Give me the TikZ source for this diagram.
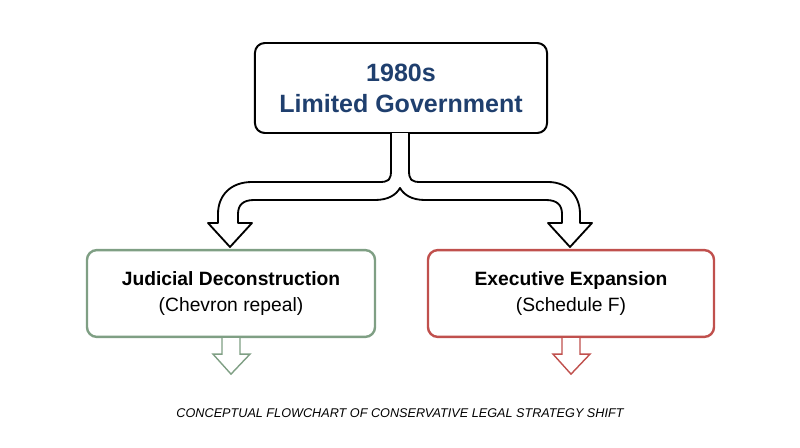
\documentclass[tikz,border=0pt]{standalone}
\usepackage{fontspec}
\setmainfont{Liberation Sans}
\usepackage{xcolor}
\definecolor{navy}{HTML}{1F3F6E}
\definecolor{sage}{HTML}{7F9F84}
\definecolor{brick}{HTML}{C0504D}
\begin{document}
\begin{tikzpicture}[x=0.025cm, y=-0.025cm]
    % Define styles
    \tikzstyle{box} = [rectangle, draw, line width=1.7pt, rounded corners=7pt, fill=white, text centered, align=center]
    \tikzstyle{fork} = [draw=black, line width=1.3pt, fill=white, line join=round]
    \tikzstyle{outarrow} = [line width=1pt, fill=white, line join=miter]

    \useasboundingbox (0,0) rectangle (800,447);

    % Boxes
    \node [box, line width=1.4pt, minimum width=7.3cm, minimum height=2.25cm, text=navy, font=\bfseries\fontsize{17.8}{22}\selectfont] (top) at (401,88)
        {1980s\\ Limited Government};
    \node [box, draw=sage, minimum width=7.2cm, minimum height=2.17cm, font=\fontsize{13.7}{18.5}\selectfont] (judicial) at (231,293.5)
        {\textbf{Judicial Deconstruction}\\ (Chevron repeal)};
    \node [box, draw=brick, minimum width=7.15cm, minimum height=2.17cm, font=\fontsize{13.7}{18.5}\selectfont] (executive) at (571,293.5)
        {\textbf{Executive Expansion}\\ (Schedule F)};

    % Split arrow
    \draw [fork] (391,133) -- (391,170) .. controls (391,180) and (389,182) .. (379,182)
        -- (252,182) .. controls (230,182) and (218,196) .. (218,214) -- (218,223)
        -- (208,223) -- (230,247) -- (252,223) -- (238,223) -- (238,214)
        .. controls (238,205) and (243,200) .. (254,200) -- (375,200)
        .. controls (388,200) and (396,195) .. (400,188)
        .. controls (404,195) and (412,200) .. (425,200) -- (546,200)
        .. controls (557,200) and (562,205) .. (562,214) -- (562,223)
        -- (548,223) -- (570,247) -- (592,223) -- (580,223) -- (580,214)
        .. controls (580,196) and (568,182) .. (548,182) -- (421,182)
        .. controls (411,182) and (409,180) .. (409,170) -- (409,133);

    % Output arrows
    \foreach \n/\c in {judicial/sage, executive/brick} {
        \draw [outarrow, draw=\c] ([xshift=-9*0.025cm]\n.south) -- ++(0,16) -- ++(-9,0)
            -- ([yshift=-36*0.025cm]\n.south) -- ++(19,-20) -- ++(-10,0) -- ++(0,-16);
    }

    % Caption
    \node (caption) at (400,413) {\fontsize{9}{11}\selectfont\itshape CONCEPTUAL FLOWCHART OF CONSERVATIVE LEGAL STRATEGY SHIFT};
\end{tikzpicture}
\end{document}
